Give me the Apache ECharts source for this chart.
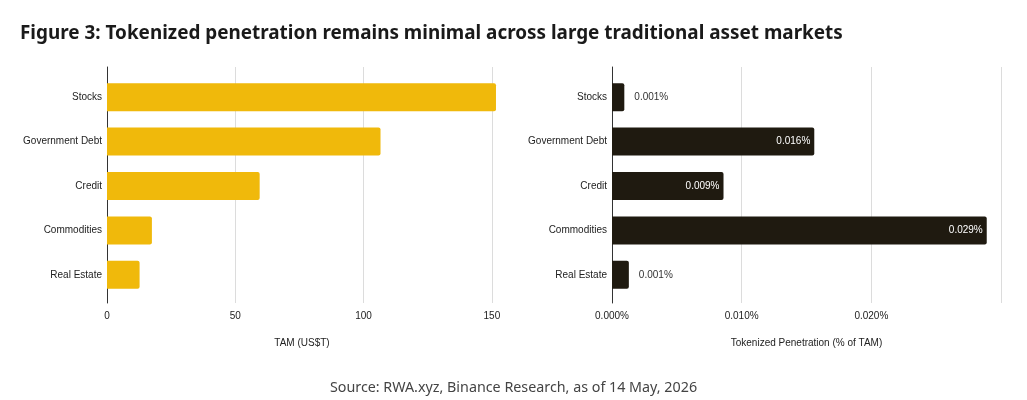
<!DOCTYPE html>
<html>
<head>
<meta charset="utf-8">
<script src="https://cdn.jsdelivr.net/npm/echarts@6/dist/echarts.min.js"></script>
<style>
html,body{margin:0;padding:0;background:#fff;}
#chart{width:1027px;height:400px;}
</style>
</head>
<body>
<div id="chart"></div>
<script>
const categories = ['Stocks', 'Government Debt', 'Credit', 'Commodities', 'Real Estate'];
const tamValues = [151.6, 106.6, 59.5, 17.5, 12.7];
const penetrationValues = [0.00095, 0.0156, 0.0086, 0.0289, 0.0013];
const tamTicks = { min: 0, max: 152, interval: 50 };
const penTicks = { min: 0, max: 0.03, interval: 0.01 };
const titleText = 'Figure 3: Tokenized penetration remains minimal across large traditional asset markets';
const sourceText = 'Source: RWA.xyz, Binance Research, as of 14 May, 2026';
const leftAxisName = 'TAM (US$T)';
const rightAxisName = 'Tokenized Penetration (% of TAM)';

const FONT = 'Liberation Sans, Arial, sans-serif';
const YELLOW = '#F0B90B';
const DARK = '#1f1a10';
const GRID_COLOR = '#dcdcdc';

const chart = echarts.init(document.getElementById('chart'), null, { renderer: 'canvas' });

const bgY = (gi) => ({
  gridIndex: gi, type: 'value', min: 0, max: 1,
  axisLine: { show: true, lineStyle: { color: '#333', width: 1 } },
  axisTick: { show: false }, axisLabel: { show: false }, splitLine: { show: false }
});
const barY = (gi) => ({
  gridIndex: gi, type: 'category', data: categories, inverse: true,
  axisLine: { show: false }, axisTick: { show: false },
  axisLabel: { fontFamily: FONT, fontSize: 10, color: '#222', margin: 5 }
});
const bgX = (gi, t, name, fmt) => ({
  gridIndex: gi, type: 'value', min: t.min, max: t.max, interval: t.interval,
  axisLine: { show: false }, axisTick: { show: false },
  axisLabel: { fontFamily: FONT, fontSize: 10, color: '#222', margin: 8, showMaxLabel: false, formatter: fmt },
  splitLine: { show: true, showMaxLine: gi === 2, lineStyle: { color: GRID_COLOR, width: 1 } },
  name: name, nameLocation: 'middle', nameGap: 35,
  nameTextStyle: { fontFamily: FONT, fontSize: 10, color: '#222' }
});
const hiddenX = (gi, t) => ({
  gridIndex: gi, type: 'value', min: t.min, max: t.max, show: false,
  splitLine: { show: false }
});

const penData = penetrationValues.map(v => {
  const inside = v > 0.005;
  return {
    value: v,
    label: inside
      ? { position: 'insideRight', color: '#fff', distance: 4 }
      : { position: 'right', color: '#333', distance: 10 }
  };
});

chart.setOption({
  backgroundColor: '#fff',
  animation: false,
  title: [
    { text: titleText, left: 15, top: 19,
      textStyle: { fontFamily: 'Noto Sans, sans-serif', fontSize: 18.9, fontWeight: 'bold', color: '#1a1a1a' } },
    { text: sourceText, left: 'center', top: 376,
      textStyle: { fontFamily: 'Noto Sans, sans-serif', fontSize: 14.3, fontWeight: 'normal', color: '#444' } }
  ],
  grid: [
    { left: 107, top: 67, width: 390, height: 236 },
    { left: 107, top: 75, width: 390, height: 222 },
    { left: 612, top: 67, width: 389, height: 236 },
    { left: 612, top: 75, width: 389, height: 222 }
  ],
  xAxis: [
    bgX(0, tamTicks, leftAxisName, v => String(v)),
    hiddenX(1, tamTicks),
    bgX(2, penTicks, rightAxisName, v => v.toFixed(3) + '%'),
    hiddenX(3, penTicks)
  ],
  yAxis: [bgY(0), barY(1), bgY(2), barY(3)],
  series: [
    { type: 'bar', xAxisIndex: 1, yAxisIndex: 1, data: tamValues, barWidth: 28,
      itemStyle: { color: YELLOW, borderRadius: [0, 2, 2, 0] } },
    { type: 'bar', xAxisIndex: 3, yAxisIndex: 3, data: penData, barWidth: 28,
      itemStyle: { color: DARK, borderRadius: [0, 2, 2, 0] },
      label: { show: true, fontFamily: FONT, fontSize: 10,
        formatter: p => p.value.toFixed(3) + '%' } }
  ]
});
</script>
</body>
</html>
